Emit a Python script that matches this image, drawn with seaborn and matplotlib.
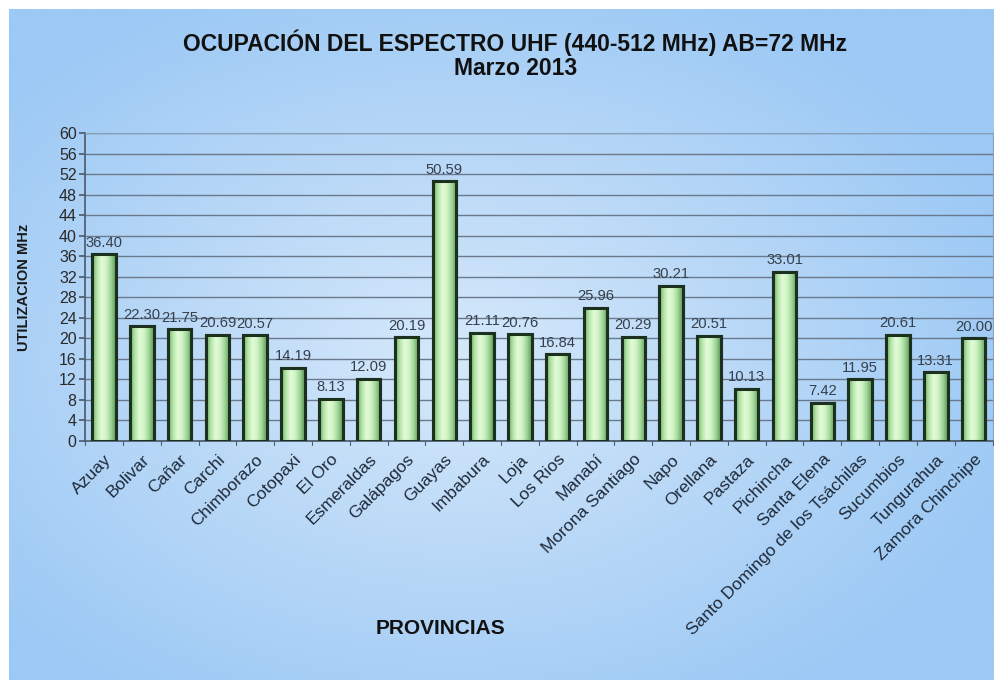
import numpy as np
import pandas as pd
import matplotlib
matplotlib.use("Agg")
import matplotlib.pyplot as plt
from matplotlib.colors import LinearSegmentedColormap
import seaborn as sns

provincias = ["Azuay", "Bolivar", "Cañar", "Carchi", "Chimborazo", "Cotopaxi",
              "El Oro", "Esmeraldas", "Galápagos", "Guayas", "Imbabura", "Loja",
              "Los Rios", "Manabí", "Morona Santiago", "Napo", "Orellana",
              "Pastaza", "Pichincha", "Santa Elena",
              "Santo Domingo de los Tsáchilas", "Sucumbios", "Tungurahua",
              "Zamora Chinchipe"]
utilizacion = [36.40, 22.30, 21.75, 20.69, 20.57, 14.19, 8.13, 12.09, 20.19,
               50.59, 21.11, 20.76, 16.84, 25.96, 20.29, 30.21, 20.51, 10.13,
               33.01, 7.42, 11.95, 20.61, 13.31, 20.00]
y_ticks = list(range(0, 61, 4))

df = pd.DataFrame({"provincia": provincias, "mhz": utilizacion})

sns.set_theme(style="white")
plt.rcParams["font.family"] = ["Liberation Sans", "DejaVu Sans"]

fig = plt.figure(figsize=(9.95, 6.8), dpi=100)
fig.patch.set_facecolor("white")

# blue panel with a soft light centre
bg = fig.add_axes([0.009, 0.0, 0.991, 0.987])
h, w = 300, 440
yy, xx = np.mgrid[0:h, 0:w]
cx, cy = 0.45 * w, 0.52 * h
d = np.sqrt(((xx - cx) / w) ** 2 + ((yy - cy) / h) ** 2)
d = np.clip(d / 0.6, 0, 1)
bg_cmap = LinearSegmentedColormap.from_list("bgb", ["#d6e9fb", "#b9d8f7", "#9cc9f5"])
bg.imshow(d, cmap=bg_cmap, aspect="auto", extent=[0, 1, 0, 1], interpolation="bicubic")
bg.set_axis_off()

ax = fig.add_axes([0.0855, 0.352, 0.912, 0.452])
ax.set_facecolor("none")
sns.barplot(data=df, x="provincia", y="mhz", ax=ax, width=0.62,
            color="#b8eab0", edgecolor="#1b301d", linewidth=2.2, zorder=3)

ax.set_ylim(0, 60)
ax.set_yticks(y_ticks)
ax.set_yticklabels([str(t) for t in y_ticks], fontsize=11.5, color="#2a2a2a")
ax.yaxis.grid(True, color="#6a7a8c", linewidth=1.0, zorder=0)
ax.set_axisbelow(True)
for s in ["top", "right"]:
    ax.spines[s].set_visible(True)
    ax.spines[s].set_color("#8aa0b8")
    ax.spines[s].set_linewidth(0.8)
ax.spines["left"].set_color("#4d5d70")
ax.spines["bottom"].set_color("#4d5d70")
ax.tick_params(axis="y", length=4, color="#4d5d70", left=True, pad=2)
ax.tick_params(axis="x", length=0, pad=8)

# cylinder-like shading across each bar
shade = LinearSegmentedColormap.from_list(
    "cyl", ["#6fa868", "#b2e6a6", "#e2fbd8", "#cff3c4", "#9ed496", "#5f985a"])
grad = np.linspace(0, 1, 64).reshape(1, -1)
for p in ax.patches:
    x0, y0 = p.get_x(), p.get_y()
    bw, bh = p.get_width(), p.get_height()
    im = ax.imshow(grad, cmap=shade, aspect="auto",
                   extent=[x0, x0 + bw, y0, y0 + bh], zorder=3.5,
                   interpolation="bicubic")
    im.set_clip_path(p)
    ax.add_patch(plt.Rectangle((x0, y0), bw, bh, fill=False,
                               edgecolor="#1b301d", linewidth=2.2, zorder=4))
ax.set_xlim(-0.5, len(provincias) - 0.5)
ax.set_ylim(0, 60)

# category separators on the baseline
for i in range(len(provincias) + 1):
    ax.plot([i - 0.5, i - 0.5], [0, -0.8], color="#4d5d70", lw=0.8,
            clip_on=False, zorder=2)

for i, v in enumerate(utilizacion):
    ax.text(i, v + 0.9, f"{v:.2f}", ha="center", va="bottom",
            fontsize=10.6, color="#35404c", zorder=5)

ax.set_xticks(range(len(provincias)))
ax.set_xticklabels(provincias, rotation=45, ha="right", rotation_mode="anchor",
                   fontsize=12.5, color="#1e2a3a")
ax.set_xlabel("")
ax.set_ylabel("UTILIZACION MHz", fontsize=10.5, fontweight="bold", color="#1a1a1a",
              labelpad=20)

fig.text(0.518, 0.937, "OCUPACIÓN DEL ESPECTRO UHF (440-512 MHz) AB=72 MHz",
         ha="center", va="center", fontsize=16.5, fontweight="bold", color="#111111")
fig.text(0.518, 0.899, "Marzo 2013", ha="center", va="center",
         fontsize=16.5, fontweight="bold", color="#111111")
fig.text(0.443, 0.076, "PROVINCIAS", ha="center", va="center",
         fontsize=15, fontweight="bold", color="#111111")

fig.savefig("out.png", dpi=100)
